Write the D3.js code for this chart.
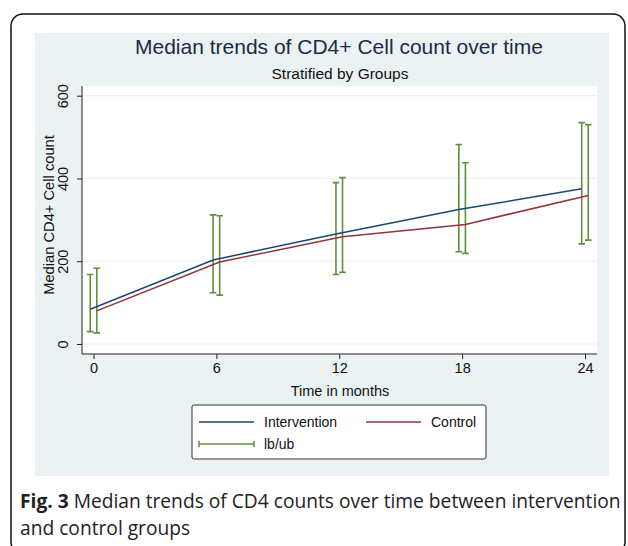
<!DOCTYPE html>
<html><head><meta charset="utf-8">
<script src="https://cdn.jsdelivr.net/npm/d3@7/dist/d3.min.js"></script>
<style>html,body{margin:0;padding:0;background:#fff;}svg{display:block;}</style>
</head><body>
<script>
const months = [0, 6, 12, 18, 24];
const interventionMedian = [84, 203, 266, 325, 375];
const interventionLb = [30, 124, 168, 223, 242];
const interventionUb = [168, 312, 390, 482, 535];
const controlMedian = [80, 198, 259, 289, 359];
const controlLb = [27, 118, 173, 219, 251];
const controlUb = [183, 310, 402, 438, 530];
const yTicks = [0, 200, 400, 600];
const xTicks = [0, 6, 12, 18, 24];
const seriesNames = ["Intervention", "Control", "lb/ub"];
const titleText = "Median trends of CD4+ Cell count over time";
const subtitleText = "Stratified by Groups";
const yTitle = "Median CD4+ Cell count";
const xTitle = "Time in months";
const captionBold = "Fig. 3";
const captionLine1 = " Median trends of CD4 counts over time between intervention";
const captionLine2 = "and control groups";

const W = 628, H = 546;
const navy = "#1a476f", maroon = "#90353b", green = "#658d40";
const bg = "#eaf2f3";
const chartFont = "'Liberation Sans', Arial, Helvetica, sans-serif";

const svg = d3.select("body").append("svg").attr("width", W).attr("height", H);

// outer rounded frame
svg.append("rect").attr("x", 11).attr("y", 14).attr("width", 614).attr("height", 540)
  .attr("rx", 12).attr("fill", "#fff").attr("stroke", "#111").attr("stroke-width", 1.5);

// Stata graph region
svg.append("rect").attr("x", 35).attr("y", 33).attr("width", 574).attr("height", 443).attr("fill", bg);

const pl = 82, pr = 597, pt = 86, pb = 354;
svg.append("rect").attr("x", pl).attr("y", pt).attr("width", pr - pl).attr("height", pb - pt).attr("fill", "#fff");

const x = d3.scaleLinear().domain([0, 24]).range([93.5, 585]);
const y = d3.scaleLinear().domain([0, 600]).range([344, 95.7]);

// gridlines
svg.append("g").selectAll("line").data(yTicks).join("line")
  .attr("x1", pl).attr("x2", pr).attr("y1", d => y(d)).attr("y2", d => y(d))
  .attr("stroke", bg).attr("stroke-width", 1.2);

// axes
const yAxis = svg.append("g").attr("transform", `translate(${pl},0)`)
  .call(d3.axisLeft(y).tickValues(yTicks).tickSize(5).tickPadding(0).tickFormat(d3.format("d")));
yAxis.select(".domain").attr("d", `M0,${pt}V${pb}`).attr("stroke", "#222");
yAxis.selectAll(".tick line").attr("stroke", "#222");
yAxis.selectAll(".tick text")
  .attr("x", null).attr("text-anchor", "middle")
  .attr("transform", "translate(-19.5,0) rotate(-90)")
  .attr("y", 0).attr("dy", "0.36em")
  .style("font-family", chartFont).style("font-size", "14.5px").attr("fill", "#111");

const xAxis = svg.append("g").attr("transform", `translate(0,${pb})`)
  .call(d3.axisBottom(x).tickValues(xTicks).tickSize(5).tickPadding(4).tickFormat(d3.format("d")));
xAxis.select(".domain").attr("d", `M${pl},0H${pr}`).attr("stroke", "#222");
xAxis.selectAll(".tick line").attr("stroke", "#222");
xAxis.selectAll(".tick text").style("font-family", chartFont).style("font-size", "14.5px").attr("fill", "#111");

// titles
svg.append("text").attr("x", 339).attr("y", 54).attr("text-anchor", "middle")
  .style("font-family", chartFont).style("font-size", "21px").attr("fill", "#1c2b45").text(titleText);
svg.append("text").attr("x", 340).attr("y", 79).attr("text-anchor", "middle")
  .style("font-family", chartFont).style("font-size", "15.5px").attr("fill", "#111").text(subtitleText);
svg.append("text").attr("transform", "translate(54,215) rotate(-90)").attr("text-anchor", "middle")
  .style("font-family", chartFont).style("font-size", "14.7px").attr("fill", "#111").text(yTitle);
svg.append("text").attr("x", 340).attr("y", 396).attr("text-anchor", "middle")
  .style("font-family", chartFont).style("font-size", "14.5px").attr("fill", "#111").text(xTitle);

// data
const off = 0.16;
const groups = [
  {med: interventionMedian, lb: interventionLb, ub: interventionUb, dx: -off, color: navy},
  {med: controlMedian, lb: controlLb, ub: controlUb, dx: off, color: maroon}
];
const cap = 3.3;
groups.forEach(g => {
  const pts = months.map((m, i) => ({m: m + g.dx, lb: g.lb[i], ub: g.ub[i]}));
  const eb = svg.append("g").attr("stroke", green).attr("stroke-width", 1.6).attr("fill", "none");
  eb.selectAll("path").data(pts).join("path")
    .attr("d", d => `M${x(d.m)},${y(d.lb)}V${y(d.ub)}M${x(d.m) - cap},${y(d.ub)}H${x(d.m) + cap}M${x(d.m) - cap},${y(d.lb)}H${x(d.m) + cap}`);
});
groups.forEach(g => {
  const line = d3.line().x((d, i) => x(months[i] + g.dx)).y(d => y(d));
  svg.append("path").attr("d", line(g.med)).attr("fill", "none").attr("stroke", g.color).attr("stroke-width", 1.5);
});

// legend
const lg = svg.append("g");
lg.append("rect").attr("x", 192).attr("y", 405).attr("width", 294).attr("height", 54).attr("rx", 2)
  .attr("fill", "#fff").attr("stroke", "#333").attr("stroke-width", 1);
const legItems = [
  {name: seriesNames[0], x0: 199, yy: 422, color: navy, tx: 264},
  {name: seriesNames[1], x0: 366, yy: 422, color: maroon, tx: 431},
  {name: seriesNames[2], x0: 199, yy: 444, color: green, tx: 264, cap: true}
];
legItems.forEach(it => {
  lg.append("line").attr("x1", it.x0).attr("x2", it.x0 + 55).attr("y1", it.yy).attr("y2", it.yy)
    .attr("stroke", it.color).attr("stroke-width", 1.5);
  if (it.cap) {
    [it.x0, it.x0 + 55].forEach(cx => lg.append("line").attr("x1", cx).attr("x2", cx)
      .attr("y1", it.yy - 3.3).attr("y2", it.yy + 3.3).attr("stroke", it.color).attr("stroke-width", 1.5));
  }
  lg.append("text").attr("x", it.tx).attr("y", it.yy).attr("dy", "0.36em")
    .style("font-family", chartFont).style("font-size", "14px").attr("fill", "#111").text(it.name);
});

// caption
const capFont = "'Open Sans', 'Noto Sans', sans-serif";
const c1 = svg.append("text").attr("x", 20).attr("y", 508)
  .style("font-family", capFont).style("font-size", "19.2px").attr("fill", "#222");
c1.append("tspan").style("font-weight", "bold").text(captionBold);
c1.append("tspan").text(captionLine1);
svg.append("text").attr("x", 20).attr("y", 535)
  .style("font-family", capFont).style("font-size", "19.2px").attr("fill", "#222").text(captionLine2);
</script>
</body></html>
